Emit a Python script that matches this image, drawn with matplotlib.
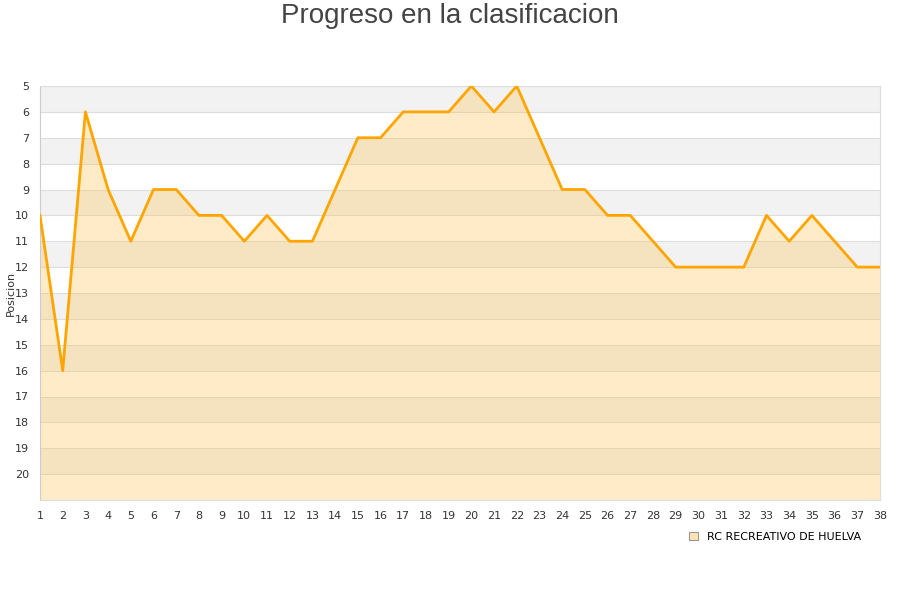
import matplotlib
matplotlib.use("Agg")
import matplotlib.pyplot as plt
from matplotlib.patches import Patch

jornadas = list(range(1, 39))
posiciones = [10, 16, 6, 9, 11, 9, 9, 10, 10, 11, 10, 11, 11, 9, 7, 7, 6, 6, 6, 5,
              6, 5, 7, 9, 9, 10, 10, 11, 12, 12, 12, 12, 10, 11, 10, 11, 12, 12]
team = "RC RECREATIVO DE HUELVA"
y_ticks = list(range(5, 21))

plt.rcParams['font.family'] = ['DejaVu Sans']
fig = plt.figure(figsize=(9, 6), dpi=100)
ax = fig.add_axes([40/900, 100/600, 840/900, 414/600])

ymin, ymax = 5, 21
for k in range(5, 21):
    if (k - 5) % 2 == 0:
        ax.axhspan(k, k + 1, color='#f2f2f2', zorder=0, lw=0)
for k in range(5, 21):
    ax.axhline(k, color='#dddddd', lw=0.8, zorder=1)

ax.fill_between(jornadas, posiciones, ymax, color=(1.0, 0.753, 0.282), alpha=0.3, lw=0, zorder=2)
ax.plot(jornadas, posiciones, color='#FFA500', lw=2.0, zorder=3)

ax.set_xlim(1, 38)
ax.set_ylim(ymax, ymin)
ax.set_yticks(y_ticks)
ax.set_xticks(jornadas)
ax.tick_params(axis='both', length=0, labelsize=8, colors='#333333')
ax.tick_params(axis='x', pad=8)
ax.tick_params(axis='y', pad=8)
for s in ax.spines.values():
    s.set_color('#dddddd')
    s.set_linewidth(0.8)
ax.spines['left'].set_color('#cccccc')
fig.text(11/900, 1 - 293/600, 'Posicion', rotation=90, ha='center', va='center',
         fontsize=8, color='#333333')

fig.text(0.5, 1 - 16/600, 'Progreso en la clasificacion', ha='center', va='center',
         fontsize=20, color='#444444', family=['Liberation Sans', 'DejaVu Sans'])

handle = Patch(facecolor='#ffe3b3', edgecolor='#999999', lw=0.8)
fig.legend([handle], [team], loc='center', bbox_to_anchor=(775/900, 1 - 537/600),
           frameon=False, fontsize=8, handlelength=0.8, handleheight=0.8)

fig.savefig('out.png', dpi=100)
